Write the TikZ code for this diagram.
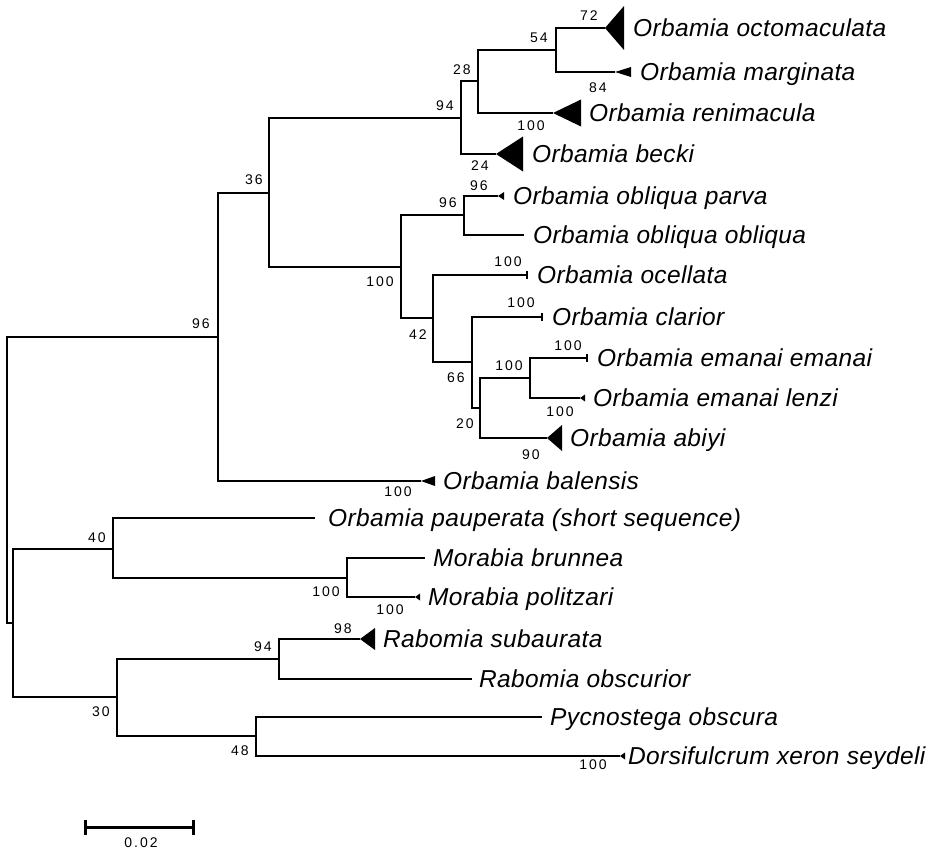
\documentclass[tikz,border=0pt]{standalone}
\usepackage{fontspec}
\setmainfont{Liberation Sans}
\newfontfamily\taxfont[LetterSpace=1.5]{Liberation Sans}
\newfontfamily\bsfont[LetterSpace=14]{Liberation Sans}
\begin{document}
\begin{tikzpicture}[x=1pt,y=-1pt,
  branch/.style={line width=1.6pt, line join=miter},
  clade/.style={fill=black},
  tickbar/.style={line width=1.2pt},
  taxon/.style={anchor=base west, inner sep=0pt, font=\taxfont\itshape\fontsize{24.5}{28}\selectfont},
  bs/.style={inner sep=0pt, font=\bsfont\fontsize{14}{16}\selectfont}]
\useasboundingbox (0,0) rectangle (947,851);

% internal nodes
\coordinate (r) at (7,480);
\coordinate (n96) at (218,337);
\coordinate (n36) at (269,193);
\coordinate (n94) at (461,118);
\coordinate (n28) at (478,81);
\coordinate (n54) at (556,50);
\coordinate (n100a) at (401,267);
\coordinate (n96b) at (464,215);
\coordinate (n42) at (433,318);
\coordinate (n66) at (472,362);
\coordinate (n20) at (480,408);
\coordinate (n100b) at (530,378);
\coordinate (nlow) at (13,623);
\coordinate (n40) at (113,549);
\coordinate (n100c) at (347,578);
\coordinate (n30) at (117,697);
\coordinate (n94b) at (279,659);
\coordinate (n48) at (256,736);

% branch ends
\coordinate (octo) at (605,28);
\coordinate (marg) at (615,72);
\coordinate (reni) at (553,113);
\coordinate (beck) at (496,154);
\coordinate (parv) at (498,196);
\coordinate (obli) at (524,235);
\coordinate (ocel) at (527,275);
\coordinate (clar) at (542,317);
\coordinate (eman) at (587,358);
\coordinate (lenz) at (580,398);
\coordinate (abiy) at (547,438);
\coordinate (bale) at (421,481);
\coordinate (paup) at (315,518);
\coordinate (brun) at (425,558);
\coordinate (poli) at (415,597);
\coordinate (suba) at (360,639);
\coordinate (obsc) at (472,679);
\coordinate (pycn) at (542,717);
\coordinate (dors) at (620,756);

% branches
\draw[branch] (r) |- (n96);  \draw[branch] (r) |- (nlow);
\draw[branch] (n96) |- (n36); \draw[branch] (n96) |- (bale);
\draw[branch] (n36) |- (n94); \draw[branch] (n36) |- (n100a);
\draw[branch] (n94) |- (n28); \draw[branch] (n94) |- (beck);
\draw[branch] (n28) |- (n54); \draw[branch] (n28) |- (reni);
\draw[branch] (n54) |- (octo); \draw[branch] (n54) |- (marg);
\draw[branch] (n100a) |- (n96b); \draw[branch] (n100a) |- (n42);
\draw[branch] (n96b) |- (parv); \draw[branch] (n96b) |- (obli);
\draw[branch] (n42) |- (ocel); \draw[branch] (n42) |- (n66);
\draw[branch] (n66) |- (clar); \draw[branch] (n66) |- (n20);
\draw[branch] (n20) |- (n100b); \draw[branch] (n20) |- (abiy);
\draw[branch] (n100b) |- (eman); \draw[branch] (n100b) |- (lenz);
\draw[branch] (nlow) |- (n40); \draw[branch] (nlow) |- (n30);
\draw[branch] (n40) |- (paup); \draw[branch] (n40) |- (n100c);
\draw[branch] (n100c) |- (brun); \draw[branch] (n100c) |- (poli);
\draw[branch] (n30) |- (n94b); \draw[branch] (n30) |- (n48);
\draw[branch] (n94b) |- (suba); \draw[branch] (n94b) |- (obsc);
\draw[branch] (n48) |- (pycn); \draw[branch] (n48) |- (dors);

% collapsed clades
\fill[clade] (octo) -- ++(19,-22) -- ++(0,44) -- cycle;
\fill[clade] (marg) -- ++(16,-5) -- ++(0,10) -- cycle;
\fill[clade] (reni) -- ++(28,-13.5) -- ++(0,27) -- cycle;
\fill[clade] (beck) -- ++(27,-17.5) -- ++(0,35) -- cycle;
\fill[clade] (parv) -- ++(6,-4) -- ++(0,8) -- cycle;
\fill[clade] (lenz) -- ++(5,-3.5) -- ++(0,7) -- cycle;
\fill[clade] (abiy) -- ++(15,-13) -- ++(0,26) -- cycle;
\fill[clade] (bale) -- ++(14,-5) -- ++(0,10) -- cycle;
\fill[clade] (poli) -- ++(5,-3.5) -- ++(0,7) -- cycle;
\fill[clade] (suba) -- ++(15,-11) -- ++(0,22) -- cycle;
\fill[clade] (dors) -- ++(5,-3.5) -- ++(0,7) -- cycle;
\draw[tickbar] (ocel) ++(0,-4) -- ++(0,8);
\draw[tickbar] (clar) ++(0,-4) -- ++(0,8);
\draw[tickbar] (eman) ++(0,-4) -- ++(0,8);

% taxon names
\node[taxon] (t-octo) at (633,36.7) {Orbamia octomaculata};
\node[taxon] (t-marg) at (640,80.7) {Orbamia marginata};
\node[taxon] (t-reni) at (589,121.7) {Orbamia renimacula};
\node[taxon] (t-beck) at (532,162.7) {Orbamia becki};
\node[taxon] (t-parv) at (513,204.7) {Orbamia obliqua parva};
\node[taxon] (t-obli) at (533,243.7) {Orbamia obliqua obliqua};
\node[taxon] (t-ocel) at (537,283.7) {Orbamia ocellata};
\node[taxon] (t-clar) at (552,325.7) {Orbamia clarior};
\node[taxon] (t-eman) at (597,366.7) {Orbamia emanai emanai};
\node[taxon] (t-lenz) at (593,406.7) {Orbamia emanai lenzi};
\node[taxon] (t-abiy) at (570,446.7) {Orbamia abiyi};
\node[taxon] (t-bale) at (443,489.7) {Orbamia balensis};
\node[taxon] (t-paup) at (328,526.7) {Orbamia pauperata (short sequence)};
\node[taxon] (t-brun) at (433,566.7) {Morabia brunnea};
\node[taxon] (t-poli) at (428,605.7) {Morabia politzari};
\node[taxon] (t-suba) at (383,647.7) {Rabomia subaurata};
\node[taxon] (t-obsc) at (479,687.7) {Rabomia obscurior};
\node[taxon] (t-pycn) at (550,725.7) {Pycnostega obscura};
\node[taxon] (t-dors) at (628,764.7) {Dorsifulcrum xeron seydeli};

% support values
\node[bs] (b1) at (201,324) {96};
\node[bs] (b2) at (254,180) {36};
\node[bs] (b3) at (445,106) {94};
\node[bs] (b4) at (462,70) {28};
\node[bs] (b5) at (539,38) {54};
\node[bs] (b6) at (589,16) {72};
\node[bs] (b7) at (598,88) {84};
\node[bs] (b8) at (531,126) {100};
\node[bs] (b9) at (480,166) {24};
\node[bs] (b10) at (479,186) {96};
\node[bs] (b11) at (448,203) {96};
\node[bs] (b12) at (380,282) {100};
\node[bs] (b13) at (508,262) {100};
\node[bs] (b14) at (521,303) {100};
\node[bs] (b15) at (418,335) {42};
\node[bs] (b16) at (456,378) {66};
\node[bs] (b17) at (465,424) {20};
\node[bs] (b18) at (509,366) {100};
\node[bs] (b19) at (568,346) {100};
\node[bs] (b20) at (560,412) {100};
\node[bs] (b21) at (531,455) {90};
\node[bs] (b22) at (398,492) {100};
\node[bs] (b23) at (97,538) {40};
\node[bs] (b24) at (326,592) {100};
\node[bs] (b25) at (390,610) {100};
\node[bs] (b26) at (343,629) {98};
\node[bs] (b27) at (263,647) {94};
\node[bs] (b28) at (101,712) {30};
\node[bs] (b29) at (240,751) {48};
\node[bs] (b30) at (593,765) {100};

% scale bar
\coordinate (sb1) at (85,827);
\coordinate (sb2) at (193,827);
\draw[line width=3pt] (sb1) -- (sb2);
\draw[line width=3pt] (sb1) ++(0,-7.5) -- ++(0,15);
\draw[line width=3pt] (sb2) ++(0,-7.5) -- ++(0,15);
\node[bs] (sblab) at (141,843) {0.02};
\end{tikzpicture}
\end{document}
